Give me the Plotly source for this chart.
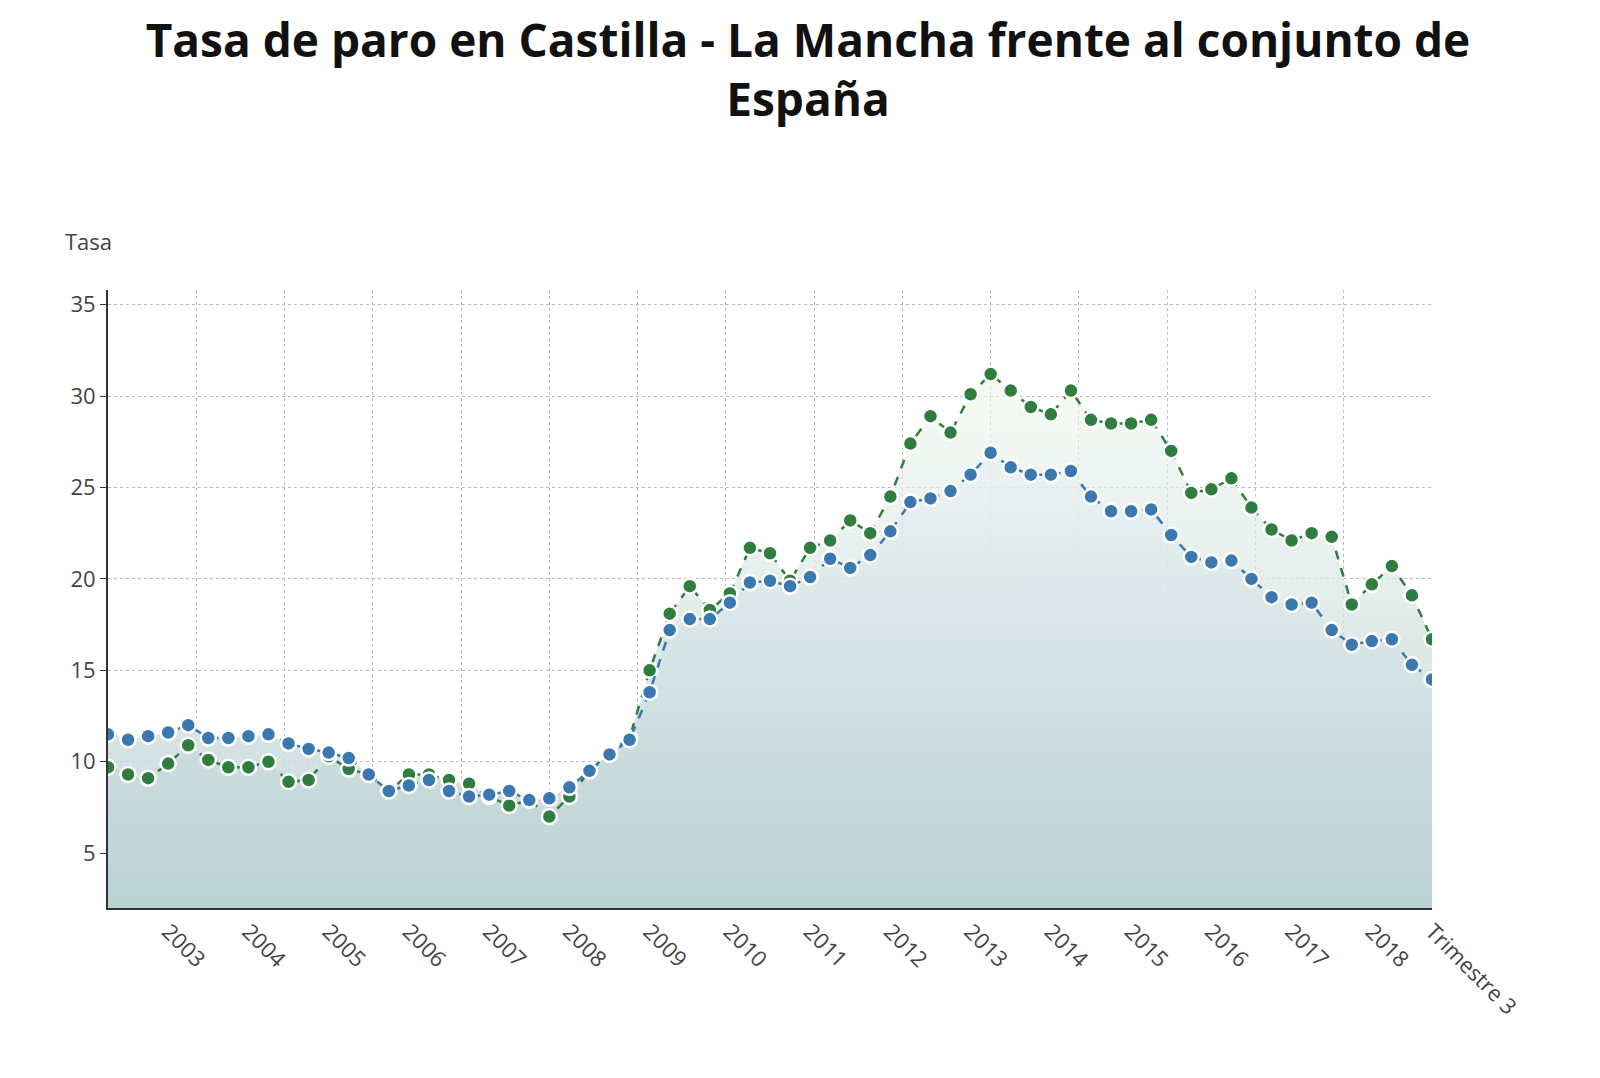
import plotly.graph_objects as go

quarters = list(range(67))
espana = [11.5,11.2,11.4,11.6,12.0,11.3,11.3,11.4,11.5,11.0,10.7,10.5,10.2,9.3,8.4,8.7,9.0,8.4,8.1,8.2,8.4,7.9,8.0,8.6,9.5,10.4,11.2,13.8,17.2,17.8,17.8,18.7,19.8,19.9,19.6,20.1,21.1,20.6,21.3,22.6,24.2,24.4,24.8,25.7,26.9,26.1,25.7,25.7,25.9,24.5,23.7,23.7,23.8,22.4,21.2,20.9,21.0,20.0,19.0,18.6,18.7,17.2,16.4,16.6,16.7,15.3,14.5]
clm = [9.7,9.3,9.1,9.9,10.9,10.1,9.7,9.7,10.0,8.9,9.0,10.3,9.6,9.3,8.4,9.3,9.3,9.0,8.8,8.1,7.6,7.9,7.0,8.1,9.5,10.5,11.3,15.0,18.1,19.6,18.3,19.2,21.7,21.4,19.9,21.7,22.1,23.2,22.5,24.5,27.4,28.9,28.0,30.1,31.2,30.3,29.4,29.0,30.3,28.7,28.5,28.5,28.7,27.0,24.7,24.9,25.5,23.9,22.7,22.1,22.5,22.3,18.6,19.7,20.7,19.1,16.7]
tick_pos = [3,7,11,15,19,23,27,31,35,39,43,47,51,55,59,63,66]
tick_text = ["2003","2004","2005","2006","2007","2008","2009","2010","2011","2012","2013","2014","2015","2016","2017","2018","Trimestre 3"]

fig = go.Figure()
# fills first
fig.add_trace(go.Scatter(x=quarters, y=clm, mode="none", fill="tozeroy", hoverinfo="skip",
    fillgradient=dict(type="vertical", colorscale=[[0, "rgba(184,207,207,1)"], [1, "rgba(240,247,240,0.6)"]])))
fig.add_trace(go.Scatter(x=quarters, y=espana, mode="none", fill="tozeroy", hoverinfo="skip",
    fillgradient=dict(type="vertical", colorscale=[[0, "rgba(184,207,207,1)"], [1, "rgba(230,238,245,0.5)"]])))
fig.add_trace(go.Scatter(x=[0, 15], y=[None, None], xaxis="x2", showlegend=False, hoverinfo="skip"))
# lines on top
fig.add_trace(go.Scatter(x=quarters, y=clm, name="Castilla - La Mancha", mode="lines+markers",
    line=dict(color="#2f7d3f", width=2.5, dash="dash"),
    marker=dict(size=15, color="#2f7d3f", line=dict(color="white", width=2.5))))
fig.add_trace(go.Scatter(x=quarters, y=espana, name="España", mode="lines+markers",
    line=dict(color="#3b78b0", width=2.5, dash="dash"),
    marker=dict(size=15, color="#3b78b0", line=dict(color="white", width=2.5))))

fig.update_layout(
    width=1600, height=1078, paper_bgcolor="white", plot_bgcolor="white",
    font=dict(family="Open Sans", color="#333"),
    showlegend=False,
    title=dict(text="<b>Tasa de paro en Castilla - La Mancha frente al conjunto de<br>España</b>",
               x=0.5, xanchor="center", y=0.955, yanchor="top", font=dict(size=46, color="#111")),
    margin=dict(l=100, r=176, t=282, b=178),
    xaxis=dict(range=[0, 66], tickvals=tick_pos, ticktext=tick_text, tickangle=45,
               showgrid=False, showline=True, linecolor="#333", linewidth=2,
               tickfont=dict(size=22, color="#444"), zeroline=False, ticks=""),
    xaxis2=dict(range=[0, 15], dtick=1, overlaying="x", showgrid=True, gridcolor="#bbb",
                griddash="dot", showticklabels=False, zeroline=False, layer="below traces"),
    yaxis=dict(range=[2, 35.8], tickvals=[5,10,15,20,25,30,35], showgrid=True, gridcolor="#bbb",
               griddash="dot", showline=True, linecolor="#333", linewidth=2,
               tickfont=dict(size=22, color="#444"), zeroline=False, ticks="outside",
               ticklen=6, tickcolor="#333"),
    annotations=[dict(text="Tasa", xref="paper", yref="paper", x=-0.034, y=1.052,
                      xanchor="left", yanchor="bottom", showarrow=False,
                      font=dict(size=22, color="#444"))],
)
fig.write_html("out.html")
